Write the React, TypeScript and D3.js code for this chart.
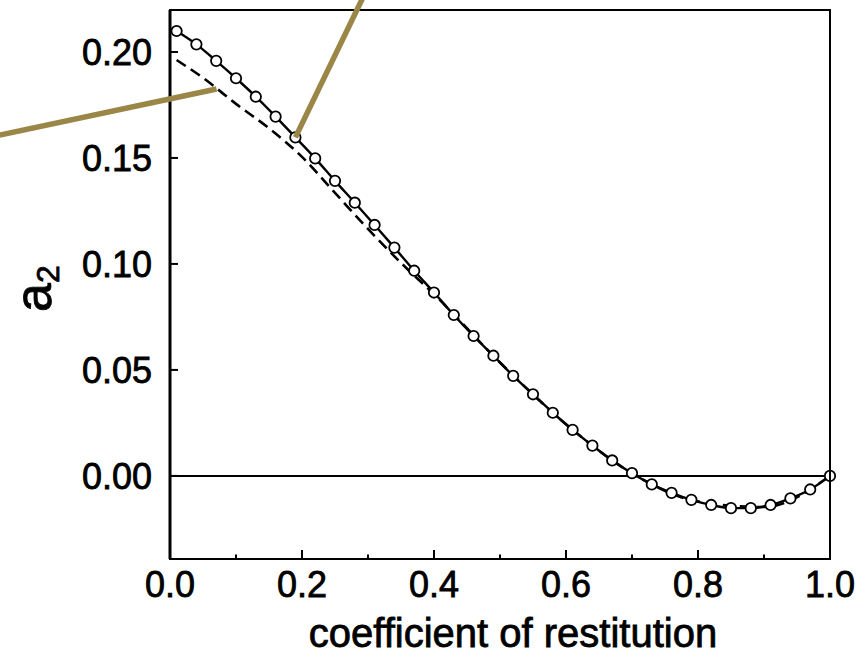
import React from "react";
import * as d3 from "d3";

const W = 859;
const H = 657;

// circles + solid line
const simX = [0.01, 0.04, 0.07, 0.10, 0.13, 0.16, 0.19, 0.22, 0.25, 0.28, 0.31, 0.34, 0.37, 0.40, 0.43, 0.46, 0.49, 0.52, 0.55, 0.58, 0.61, 0.64, 0.67, 0.70, 0.73, 0.76, 0.79, 0.82, 0.85, 0.88, 0.91, 0.94, 0.97, 1.00];
const simY = [0.2099, 0.2036, 0.1958, 0.1876, 0.1789, 0.1695, 0.1597, 0.1498, 0.1392, 0.1289, 0.1184, 0.1077, 0.0968, 0.0865, 0.0759, 0.0660, 0.0567, 0.0472, 0.0385, 0.0298, 0.0217, 0.0143, 0.0073, 0.0013, -0.0040, -0.0080, -0.0113, -0.0137, -0.0152, -0.0152, -0.0137, -0.0106, -0.0064, 0.0];

// dashed theory line
const theoryX = [0.01, 0.05, 0.10, 0.15, 0.20, 0.25, 0.30, 0.35, 0.40, 0.50, 0.60, 0.70, 0.80, 0.90, 1.00];
const theoryY = [0.1962, 0.1878, 0.1755, 0.1640, 0.1505, 0.1335, 0.1165, 0.1005, 0.0857, 0.0535, 0.0244, 0.0013, -0.0121, -0.0147, 0.0];

const xTicksMajor = [0.0, 0.2, 0.4, 0.6, 0.8, 1.0];
const xTicksMinor = [0.1, 0.3, 0.5, 0.7, 0.9];
const yTicks = [0.0, 0.05, 0.1, 0.15, 0.2];

// annotation pointers (data coords: from -> to)
const pointerFromX = [-0.258, 0.292];
const pointerFromY = [0.1608, 0.2255];
const pointerToX = [0.0705, 0.19];
const pointerToY = [0.1825, 0.1597];

const xTitle = "coefficient of restitution";

const FONT = "'Liberation Sans', Arial, Helvetica, sans-serif";

export default function App() {
  const left = 170, right = 830, top = 10, bottom = 559;
  const x = d3.scaleLinear().domain([0, 1]).range([left, right]);
  const y = d3.scaleLinear().domain([-0.0392, 0.2198]).range([bottom, top]);

  const solid = d3.line<number>().x((_, i) => x(simX[i])).y((d) => y(d)).curve(d3.curveMonotoneX)(simY) || "";
  const dashed = d3.line<number>().x((_, i) => x(theoryX[i])).y((d) => y(d)).curve(d3.curveMonotoneX)(theoryY) || "";

  const textStroke = { stroke: "#000", strokeWidth: 0.8 };

  return (
    <svg width={W} height={H} style={{ position: "fixed", left: 0, top: 0, background: "#fff" }} fontFamily={FONT}>
      <rect x={0} y={0} width={W} height={H} fill="#fff" />
      {/* zero line */}
      <line x1={left} x2={right} y1={y(0)} y2={y(0)} stroke="#000" strokeWidth={2} />
      {/* dashed */}
      <path d={dashed} fill="none" stroke="#000" strokeWidth={2.6} strokeDasharray="11,6" />
      {/* solid */}
      <path d={solid} fill="none" stroke="#000" strokeWidth={2.4} />
      {simY.map((v, i) => (
        <circle key={i} cx={x(simX[i])} cy={y(v)} r={5.2} fill="#fff" stroke="#000" strokeWidth={1.8} />
      ))}
      {/* frame */}
      <rect x={left} y={top} width={right - left} height={bottom - top} fill="none" stroke="#000" strokeWidth={2} />
      <line x1={left} x2={left} y1={top} y2={bottom} stroke="#000" strokeWidth={3} />
      {/* ticks */}
      {xTicksMajor.map((t) => (
        <line key={"M" + t} x1={x(t)} x2={x(t)} y1={bottom} y2={bottom - 9} stroke="#000" strokeWidth={2} />
      ))}
      {xTicksMinor.map((t) => (
        <line key={"m" + t} x1={x(t)} x2={x(t)} y1={bottom} y2={bottom - 4.5} stroke="#000" strokeWidth={2} />
      ))}
      {yTicks.map((t) => (
        <line key={"y" + t} x1={left} x2={left + 8} y1={y(t)} y2={y(t)} stroke="#000" strokeWidth={2} />
      ))}
      {/* tick labels */}
      {xTicksMajor.map((t) => (
        <text key={"xl" + t} x={x(t)} y={597} textAnchor="middle" fontSize={36} fill="#000" {...textStroke}>
          {t.toFixed(1)}
        </text>
      ))}
      {yTicks.map((t) => (
        <text key={"yl" + t} x={152} y={y(t) + 13} textAnchor="end" fontSize={36} fill="#000" {...textStroke}>
          {t.toFixed(2)}
        </text>
      ))}
      <text x={513} y={647} textAnchor="middle" fontSize={40} fill="#000" {...textStroke}>{xTitle}</text>
      <text transform={`translate(51, 312) rotate(-90)`} fontSize={52} fill="#000" {...textStroke}>
        a<tspan fontSize={32} dy={8}>2</tspan>
      </text>
      {/* annotation pointers */}
      {pointerFromX.map((fx, i) => (
        <line key={"p" + i} x1={x(fx)} y1={y(pointerFromY[i])} x2={x(pointerToX[i])} y2={y(pointerToY[i])} stroke="#9a8747" strokeWidth={5.5} />
      ))}
    </svg>
  );
}
